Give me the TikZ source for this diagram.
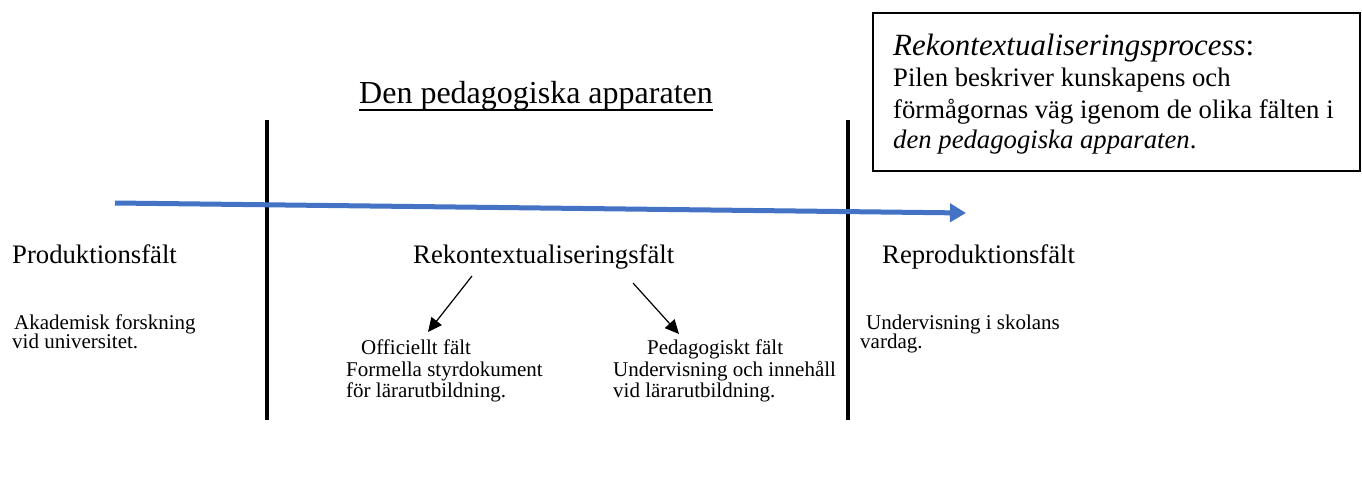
\documentclass[tikz,border=0pt]{standalone}
\usepackage{fontspec}
\setmainfont{Liberation Serif}
\usetikzlibrary{arrows.meta}
\definecolor{pilblue}{HTML}{4472C4}
\tikzset{
  big/.style={inner sep=0pt, anchor=base west, font=\fontsize{26.7}{30}\selectfont},
  small/.style={inner sep=0pt, anchor=base west, font=\fontsize{21}{24}\selectfont},
  boxt/.style={inner sep=0pt, anchor=base west, font=\fontsize{26.7}{30}\selectfont},
  divider/.style={line width=4.5pt, black},
  smallarrow/.style={line width=1.2pt, -{Triangle[length=14pt,width=13pt]}},
  mainarrow/.style={line width=5pt, pilblue, -{Triangle[length=16pt,width=18pt]}}
}
\begin{document}
\begin{tikzpicture}[x=1pt,y=-1pt]
\useasboundingbox[fill=white] (0,0) rectangle (1362,484);

% explanation box
\draw[line width=1.3pt] (873,13) rectangle (1360,171);
\node[boxt, font=\fontsize{30.9}{34}\selectfont] (b1) at (893,56) {\textit{Rekontextualiseringsprocess}:};
\node[boxt] (b2) at (893,87) {Pilen beskriver kunskapens och};
\node[boxt] (b3) at (893,119) {förmågornas väg igenom de olika fälten i};
\node[boxt] (b4) at (893,149) {\textit{den pedagogiska apparaten}.};

% title
\node[inner sep=0pt, anchor=base, font=\fontsize{32}{36}\selectfont] (title) at (536,104) {Den pedagogiska apparaten};
\draw[line width=1.2pt] (title.base west) ++(0,6) coordinate (ul1) -- (title.base east |- ul1);

% dividers
\coordinate (d1t) at (267,120); \coordinate (d1b) at (267,420);
\coordinate (d2t) at (848,120); \coordinate (d2b) at (848,420);
\draw[divider] (d1t) -- (d1b);
\draw[divider] (d2t) -- (d2b);

% main arrow
\coordinate (ma) at (115,203);
\coordinate (mb) at (966,213);
\draw[mainarrow] (ma) -- (mb);

% field labels
\node[big] (prod) at (12,263) {Produktionsfält};
\node[big] (rek) at (413,263) {Rekontextualiseringsfält};
\node[big] (repr) at (882,263) {Reproduktionsfält};

% left column
\node[small] (p1) at (14,329) {Akademisk forskning};
\node[small] (p2) at (12,348) {vid universitet.};

% right column
\node[small] (r1) at (866,329) {Undervisning i skolans};
\node[small] (r2) at (860,348) {vardag.};

% middle: officiellt
\node[small] (o1) at (361,354) {Officiellt fält};
\node[small] (o2) at (346,376) {Formella styrdokument};
\node[small] (o3) at (346,397) {för lärarutbildning.};

% middle: pedagogiskt
\node[small] (g1) at (647,354) {Pedagogiskt fält};
\node[small] (g2) at (613,376) {Undervisning och innehåll};
\node[small] (g3) at (613,397) {vid lärarutbildning.};

% small arrows
\coordinate (a1s) at (472,276);
\coordinate (a1e) at (428,332);
\coordinate (a2s) at (633,283);
\coordinate (a2e) at (679,334);
\draw[smallarrow] (a1s) -- (a1e);
\draw[smallarrow] (a2s) -- (a2e);
\end{tikzpicture}
\end{document}
